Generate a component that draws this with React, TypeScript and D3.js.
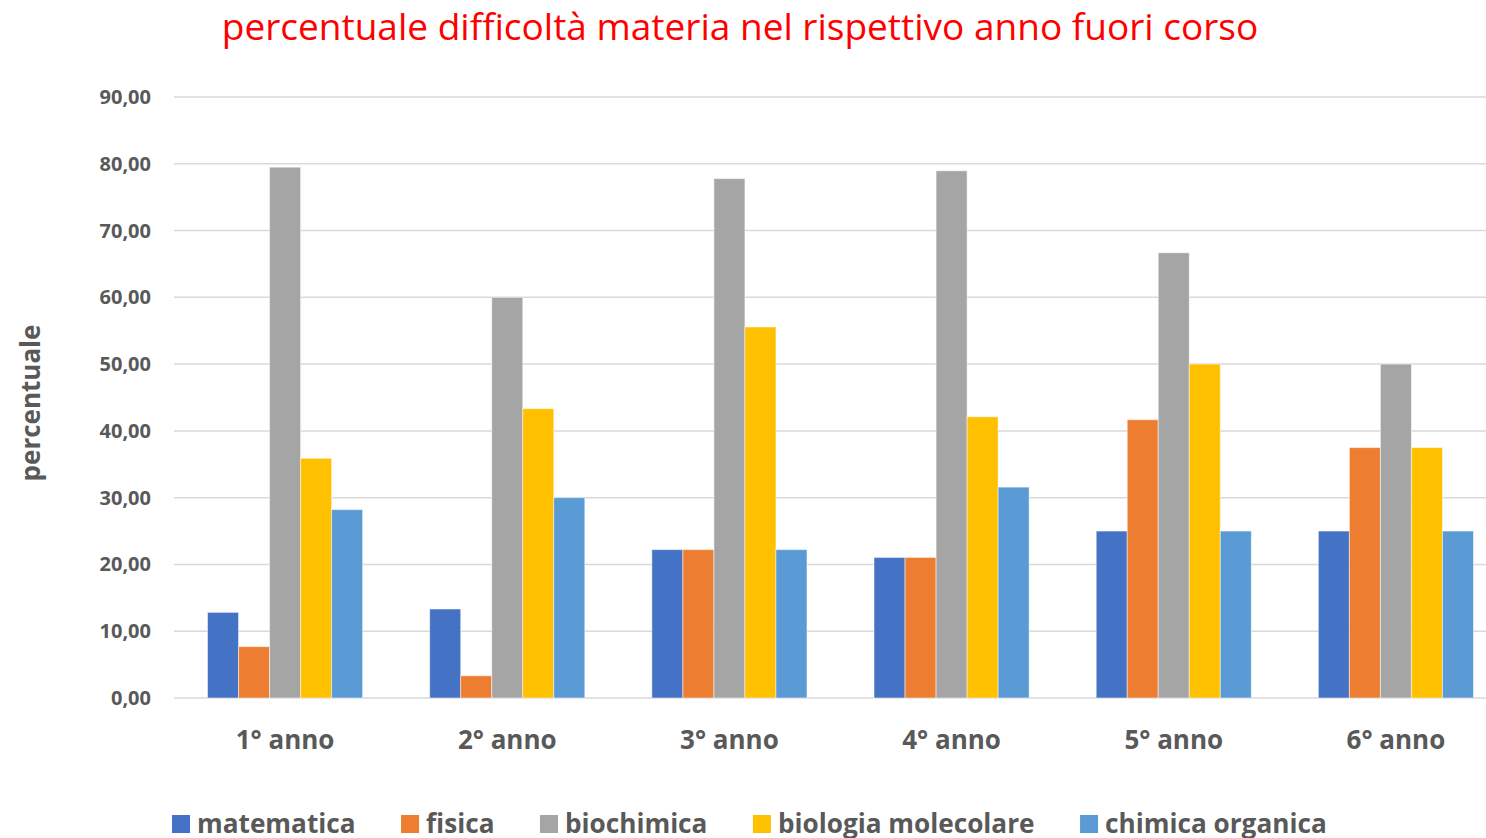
import React, { useEffect, useRef } from 'react';
import * as d3 from 'd3';

const categories = ['1° anno', '2° anno', '3° anno', '4° anno', '5° anno', '6° anno'];
const seriesNames = ['matematica', 'fisica', 'biochimica', 'biologia molecolare', 'chimica organica'];
const seriesColors = ['#4472C4', '#ED7D31', '#A5A5A5', '#FFC000', '#5B9BD5'];

const matematica = [12.82, 13.33, 22.22, 21.05, 25.0, 25.0];
const fisica = [7.69, 3.33, 22.22, 21.05, 41.67, 37.5];
const biochimica = [79.49, 60.0, 77.78, 78.95, 66.67, 50.0];
const biologiaMolecolare = [35.9, 43.33, 55.56, 42.11, 50.0, 37.5];
const chimicaOrganica = [28.21, 30.0, 22.22, 31.58, 25.0, 25.0];

const yTicks = [0, 10, 20, 30, 40, 50, 60, 70, 80, 90];

const W = 1486;
const H = 838;
const FONT = "'Open Sans', 'DejaVu Sans', sans-serif";

export default function App() {
  const svgRef = useRef<SVGSVGElement>(null);

  useEffect(() => {
    document.body.style.margin = '0';
    if (!svgRef.current) return;
    const svg = d3.select(svgRef.current);
    svg.selectAll('*').remove();

    const series = [matematica, fisica, biochimica, biologiaMolecolare, chimicaOrganica];
    // the plot runs a little past the right edge, as in the original
    const margin = { left: 174, right: -21, top: 97, bottom: 140 };

    const x = d3.scaleBand().domain(categories).range([margin.left, W - margin.right]).paddingInner(0.3018).paddingOuter(0.1509);
    const xInner = d3.scaleBand().domain(seriesNames).range([0, x.bandwidth()]);
    const y = d3.scaleLinear().domain([0, 90]).range([H - margin.bottom, margin.top]);

    // title
    svg.append('text')
      .attr('x', 740).attr('y', 40)
      .attr('text-anchor', 'middle')
      .attr('fill', '#FF0000')
      .style('font-family', FONT)
      .style('font-size', '37px')
      .text('percentuale difficoltà materia nel rispettivo anno fuori corso');

    // gridlines
    svg.append('g').selectAll('line').data(yTicks).enter().append('line')
      .attr('x1', margin.left).attr('x2', W)
      .attr('y1', d => y(d)).attr('y2', d => y(d))
      .attr('stroke', '#D9D9D9').attr('stroke-width', 1.5);

    // y tick labels
    svg.append('g').selectAll('text').data(yTicks).enter().append('text')
      .attr('x', 151).attr('y', d => y(d)).attr('dy', '0.35em')
      .attr('text-anchor', 'end')
      .attr('fill', '#595959')
      .style('font-family', FONT).style('font-weight', 'bold').style('font-size', '20px')
      .text(d => d3.format('.2f')(d).replace('.', ','));

    // y axis title
    svg.append('text')
      .attr('transform', `translate(40,403) rotate(-90)`)
      .attr('text-anchor', 'middle')
      .attr('fill', '#595959')
      .style('font-family', FONT).style('font-weight', 'bold').style('font-size', '26px')
      .text('percentuale');

    // bars
    const groups = svg.append('g').selectAll('g').data(categories).enter().append('g')
      .attr('transform', d => `translate(${x(d)},0)`);
    seriesNames.forEach((name, si) => {
      groups.append('rect')
        .attr('x', xInner(name)!)
        .attr('width', xInner.bandwidth())
        .attr('y', (_, ci) => y(series[si][ci]))
        .attr('height', (_, ci) => y(0) - y(series[si][ci]))
        .attr('fill', seriesColors[si])
        .attr('stroke', '#FFFFFF').attr('stroke-opacity', 0.5).attr('stroke-width', 1);
    });

    // x category labels
    svg.append('g').selectAll('text').data(categories).enter().append('text')
      .attr('x', d => x(d)! + x.bandwidth() / 2).attr('y', 749)
      .attr('text-anchor', 'middle')
      .attr('fill', '#595959')
      .style('font-family', FONT).style('font-weight', 'bold').style('font-size', '26px')
      .text(d => d);

    // legend
    const legend = svg.append('g');
    let lx = 172;
    seriesNames.forEach((name, i) => {
      legend.append('rect')
        .attr('x', lx).attr('y', 815).attr('width', 18).attr('height', 18)
        .attr('fill', seriesColors[i]);
      const t = legend.append('text')
        .attr('x', lx + 25).attr('y', 833)
        .attr('fill', '#595959')
        .style('font-family', FONT).style('font-weight', 'bold').style('font-size', '26.2px')
        .text(name);
      const tw = (t.node() as SVGTextElement).getComputedTextLength();
      lx += 25 + tw + 45.5;
    });
  }, []);

  return <svg ref={svgRef} width={W} height={H} style={{ display: 'block', background: '#fff' }} />;
}
